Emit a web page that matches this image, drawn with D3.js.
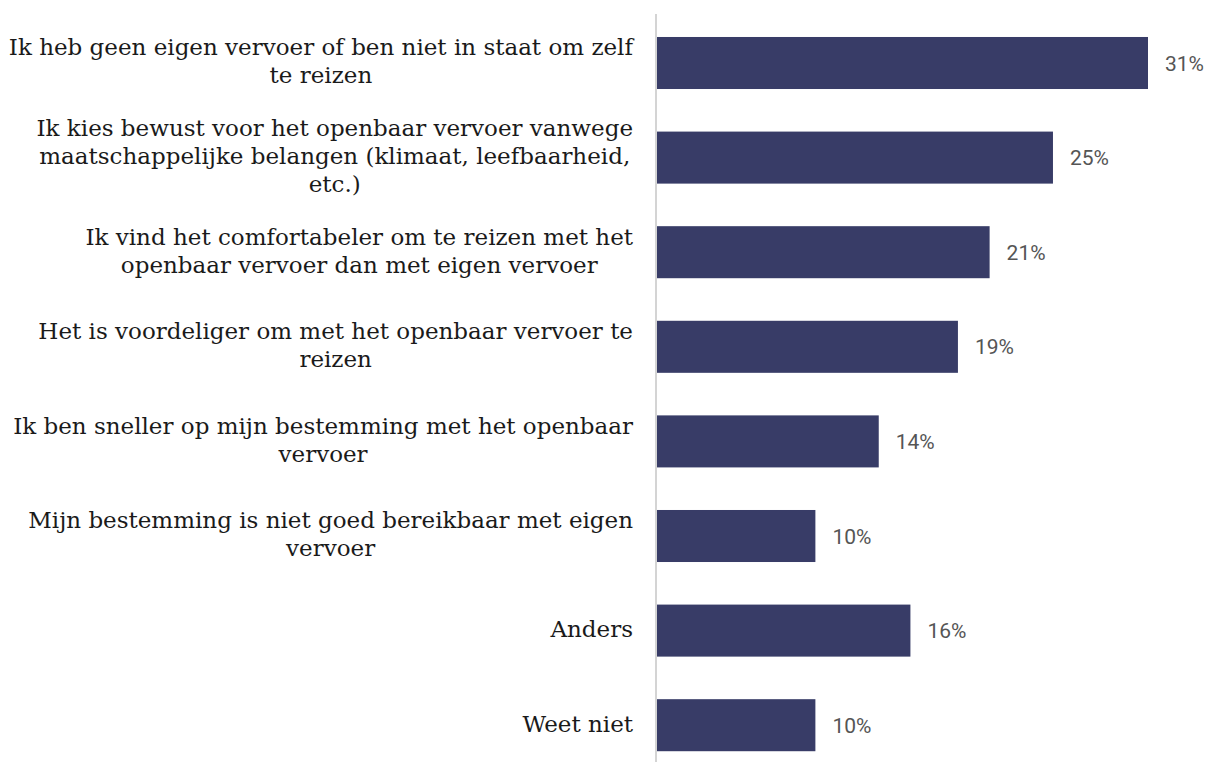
<!DOCTYPE html>
<html>
<head>
<meta charset="utf-8">
<script src="https://cdn.jsdelivr.net/npm/d3@7"></script>
<style>
  html, body { margin: 0; padding: 0; background: #fff; }
  svg { display: block; }
</style>
</head>
<body>
<svg id="chart" width="1211" height="762"></svg>
<script>
// Reasons for choosing public transport (share of respondents, %)
const categories = [
  "Ik heb geen eigen vervoer of ben niet in staat om zelf\nte reizen",
  "Ik kies bewust voor het openbaar vervoer vanwege\nmaatschappelijke belangen (klimaat, leefbaarheid,\netc.)",
  "Ik vind het comfortabeler om te reizen met het\nopenbaar vervoer dan met eigen vervoer",
  "Het is voordeliger om met het openbaar vervoer te\nreizen",
  "Ik ben sneller op mijn bestemming met het openbaar\nvervoer",
  "Mijn bestemming is niet goed bereikbaar met eigen\nvervoer",
  "Anders",
  "Weet niet"
];
const values = [31, 25, 21, 19, 14, 10, 16, 10];

const svg = d3.select("#chart");
const x0 = 657, x31 = 1148;

const x = d3.scaleLinear().domain([0, 31]).range([x0, x31]);
const y = d3.scaleBand()
  .domain(categories)
  .range([15.7, 772.5])
  .paddingInner(0.45)
  .paddingOuter(0.225);

// bars
svg.append("g").selectAll("rect")
  .data(values)
  .join("rect")
  .attr("x", x(0))
  .attr("y", (d, i) => y(categories[i]))
  .attr("width", d => x(d) - x(0))
  .attr("height", y.bandwidth())
  .attr("fill", "#383c67");

// vertical baseline
svg.append("line")
  .attr("x1", x0 - 1).attr("x2", x0 - 1)
  .attr("y1", 14).attr("y2", 762)
  .attr("stroke", "#d4d4d4")
  .attr("stroke-width", 2);

// value labels
svg.append("g").selectAll("text")
  .data(values)
  .join("text")
  .attr("x", d => x(d) + 17)
  .attr("y", (d, i) => y(categories[i]) + y.bandwidth() / 2)
  .attr("dy", "0.36em")
  .attr("font-family", "Roboto, sans-serif")
  .attr("font-size", 21)
  .attr("fill", "#555")
  .text(d => d + "%");

// category labels: centred lines, block right-aligned to the axis
const lineH = 28;
const labelG = svg.append("g")
  .attr("font-family", "'DejaVu Serif', serif")
  .attr("font-size", 23)
  .attr("fill", "#1a1a1a");

categories.forEach(c => {
  const lines = c.split("\n");
  const cy = y(c) + y.bandwidth() / 2;
  const g = labelG.append("g");
  const texts = lines.map((ln, k) =>
    g.append("text")
      .attr("y", cy + (k - (lines.length - 1) / 2) * lineH)
      .attr("dy", "0.28em")
      .attr("text-anchor", "middle")
      .text(ln)
  );
  const w = d3.max(texts, t => t.node().getComputedTextLength());
  const right = 633;
  texts.forEach(t => t.attr("x", right - w / 2));
});
</script>
</body>
</html>
